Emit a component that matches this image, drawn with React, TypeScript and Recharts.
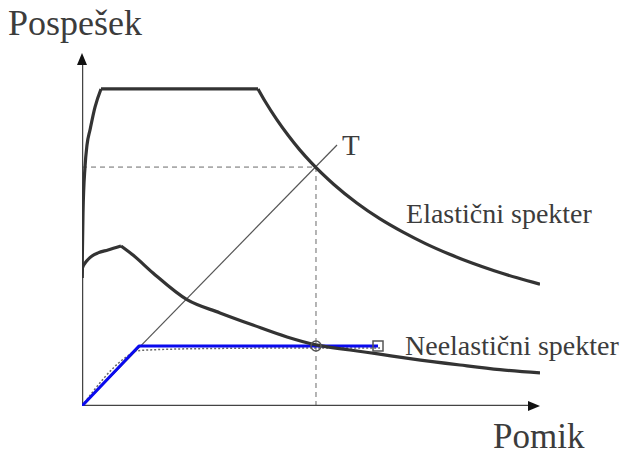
import React from 'react';
import { ComposedChart, Line, XAxis, YAxis, ReferenceDot } from 'recharts';

const FONT = '"Liberation Serif", "Times New Roman", Times, serif';
const TEXT_COLOR = '#3c3c3c';

// Displacement Sd [cm] and acceleration Sa [g] (ADRS format)
const elasticRiseSd = [0, 0.044, 0.131, 0.218, 0.349, 0.568, 0.83];
const elasticRiseSa = [0.58, 0.875, 1.083, 1.183, 1.251, 1.355, 1.437];
const elasticPlateauSd = [0.83, 7.686];
const elasticPlateauSa = [1.437, 1.437];
const elasticDecaySd = [7.686, 8, 8.5, 9, 9.5, 10, 11, 12, 13, 14, 15, 16, 17, 18, 19, 20];
const elasticDecaySa = [1.437, 1.38, 1.299, 1.227, 1.162, 1.104, 1.004, 0.92, 0.849, 0.789, 0.736, 0.69, 0.649, 0.613, 0.581, 0.552];

const inelasticRiseSd = [0, 0.022, 0.131, 0.262, 0.437, 0.699, 1.135, 1.703];
const inelasticRiseSa = [0.58, 0.626, 0.648, 0.664, 0.68, 0.694, 0.707, 0.725];
const inelasticDecaySd = [1.703, 2.227, 3.101, 4.585, 6.026, 7.467, 8.952, 10.218, 11.703, 12.926, 14.323, 16.507, 18.253, 20];
const inelasticDecaySa = [0.725, 0.684, 0.603, 0.482, 0.422, 0.367, 0.313, 0.277, 0.254, 0.236, 0.215, 0.186, 0.165, 0.15];

const capacitySd = [0, 2.489, 12.926];
const capacitySa = [0, 0.272, 0.272];
const pushoverSd = [0, 1.878, 2.402, 3.406, 6.026, 9.52, 13.013];
const pushoverSa = [0, 0.218, 0.25, 0.256, 0.261, 0.263, 0.263];

const periodLineSd = [0, 11.136];
const periodLineSa = [0, 1.183];

const elasticDemandSd = 10.218;
const elasticDemandSa = 1.083;
const performanceSd = 10.218;
const performanceSa = 0.272;
const capacityEndSd = 12.926;
const capacityEndSa = 0.272;

const xAxisMax = 20;
const yAxisMax = 1.6;

const labels = [
  { text: 'Pospešek', d: -3.231, a: 1.682, size: 36 },
  { text: 'Pomik', d: 17.95, a: -0.19, size: 35 },
  { text: 'T', d: 11.354, a: 1.138, size: 29 },
  { text: 'Elastični spekter', d: 14.15, a: 0.83, size: 28 },
  { text: 'Neelastični spekter', d: 14.105, a: 0.231, size: 28 },
];

const zip = (sd: number[], sa: number[]) => sd.map((d, i) => ({ d, a: sa[i] }));

const App = () => {
  const line = (key: string, sd: number[], sa: number[], stroke: string, width: number, type: any = 'linear', dash?: string) => (
    <Line
      key={key}
      data={zip(sd, sa)}
      dataKey="a"
      type={type}
      stroke={stroke}
      strokeWidth={width}
      strokeDasharray={dash}
      dot={false}
      activeDot={false}
      isAnimationActive={false}
      strokeLinejoin="round"
      strokeLinecap="butt"
    />
  );

  return (
    <div style={{ position: 'absolute', left: 0, top: 0, background: '#fff' }}>
      <ComposedChart width={633} height={457} margin={{ top: 53, right: 93, bottom: 51, left: 82 }}>
        <XAxis type="number" dataKey="d" domain={[0, xAxisMax]} hide allowDataOverflow />
        <YAxis type="number" domain={[0, yAxisMax]} hide allowDataOverflow />

        {/* dashed helper lines */}
        {line('dashH', [0, elasticDemandSd], [elasticDemandSa, elasticDemandSa], '#6a6a6a', 1, 'linear', '5 4')}
        {line('dashV', [elasticDemandSd, elasticDemandSd], [0, elasticDemandSa], '#6a6a6a', 1, 'linear', '5 4')}

        {/* period line */}
        {line('period', periodLineSd, periodLineSa, '#555', 1.2)}

        {/* axes */}
        {line('xAxis', [0, xAxisMax - 0.3], [0, 0], '#444', 2.5)}
        {line('yAxis', [0, 0], [0, yAxisMax - 0.02], '#444', 2.5)}

        {/* pushover curve (dotted) */}
        {line('pushover', pushoverSd, pushoverSa, '#666', 1.5, 'monotone', '2 2')}
        {/* bilinear capacity */}
        {line('capacity', capacitySd, capacitySa, '#0a0aee', 3)}

        {/* spectra */}
        {line('eRise', elasticRiseSd, elasticRiseSa, '#333', 3.2, 'monotone')}
        {line('ePlat', elasticPlateauSd, elasticPlateauSa, '#333', 3.2)}
        {line('eDecay', elasticDecaySd, elasticDecaySa, '#333', 3.2, 'monotone')}
        {line('iRise', inelasticRiseSd, inelasticRiseSa, '#333', 3.2, 'monotone')}
        {line('iDecay', inelasticDecaySd, inelasticDecaySa, '#333', 3.2, 'monotone')}

        <ReferenceDot
          x={performanceSd}
          y={performanceSa}
          r={5}
          ifOverflow="visible"
          shape={(p: any) => <circle cx={p.cx} cy={p.cy} r={5} fill="none" stroke="#555" strokeWidth={1.5} />}
        />
        <ReferenceDot
          x={capacityEndSd}
          y={capacityEndSa}
          r={5}
          ifOverflow="visible"
          shape={(p: any) => <rect x={p.cx - 5} y={p.cy - 5} width={10} height={10} fill="none" stroke="#555" strokeWidth={1.5} />}
        />

        {/* arrow heads */}
        <ReferenceDot
          x={xAxisMax}
          y={0}
          r={5}
          ifOverflow="visible"
          shape={(p: any) => <polygon points={`${p.cx},${p.cy} ${p.cx - 12},${p.cy - 5} ${p.cx - 12},${p.cy + 5}`} fill="#111" />}
        />
        <ReferenceDot
          x={0}
          y={yAxisMax}
          r={5}
          ifOverflow="visible"
          shape={(p: any) => <polygon points={`${p.cx},${p.cy} ${p.cx - 5},${p.cy + 12} ${p.cx + 5},${p.cy + 12}`} fill="#111" />}
        />

        {labels.map((l) => (
          <ReferenceDot
            key={l.text}
            x={l.d}
            y={l.a}
            r={1}
            ifOverflow="visible"
            shape={(p: any) => (
              <text x={p.cx} y={p.cy} fontFamily={FONT} fontSize={l.size} fill={TEXT_COLOR}>
                {l.text}
              </text>
            )}
          />
        ))}
      </ComposedChart>
    </div>
  );
};

export default App;
